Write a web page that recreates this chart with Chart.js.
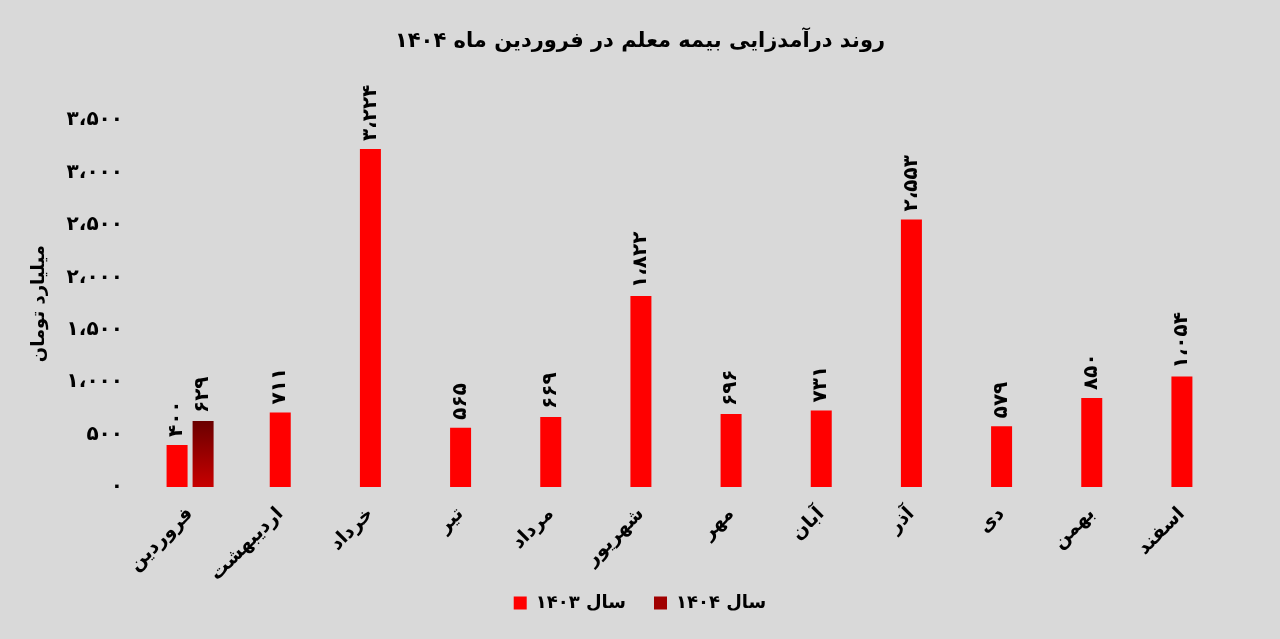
<!DOCTYPE html>
<html>
<head>
<meta charset="utf-8">
<script src="https://cdn.jsdelivr.net/npm/chart.js@4/dist/chart.umd.min.js"></script>
<style>
  body { margin: 0; background: #d9d9d9; }
  .container { position: relative; width: 1280px; height: 639px; }
</style>
</head>
<body>
<div class="container"><canvas id="chart"></canvas></div>
<script>
const months = ['فروردین', 'اردیبهشت', 'خرداد', 'تیر', 'مرداد', 'شهریور', 'مهر', 'آبان', 'آذر', 'دی', 'بهمن', 'اسفند']
const values_1403 = [400, 711, 3224, 565, 669, 1822, 696, 731, 2553, 579, 850, 1054]
const values_1404 = [629, null, null, null, null, null, null, null, null, null, null, null]
const series_names = ['سال ۱۴۰۳', 'سال ۱۴۰۴']
const chart_title = 'روند درآمدزایی بیمه معلم در فروردین ماه ۱۴۰۴'
const y_title = 'میلیارد تومان'

const FONT = '"DejaVu Sans", sans-serif'

function fa(n) {
    let digits = '۰۱۲۳۴۵۶۷۸۹'
    let s = String(n).replace(/\B(?=(\d{3})+(?!\d))/g, '،')
    return s.replace(/\d/g, d => digits[d])
}

// numbers above the bars, turned on their side
const valueLabels = {
    id: 'valueLabels',
    afterDatasetsDraw(chart) {
        let c = chart.ctx
        chart.data.datasets.forEach((ds, i) => {
            let meta = chart.getDatasetMeta(i)
            meta.data.forEach((bar, j) => {
                let v = ds.data[j]
                if (v == null) return
                c.save()
                c.translate(bar.x, bar.y - 8)
                c.rotate(-Math.PI / 2)
                c.font = 'bold 20px ' + FONT
                c.fillStyle = '#000'
                c.textAlign = 'left'
                c.textBaseline = 'middle'
                c.fillText(fa(v), 0, 0)
                c.restore()
            })
        })
    }
}

function darkRed(ctx) {
    let chart = ctx.chart
    if (!chart.chartArea || ctx.raw == null) return '#a00000'
    let y = chart.scales.y
    let g = chart.ctx.createLinearGradient(0, y.getPixelForValue(ctx.raw), 0, y.getPixelForValue(0))
    g.addColorStop(0, '#6a0000')
    g.addColorStop(1, '#c80000')
    return g
}

new Chart(document.getElementById('chart'), {
    type: 'bar',
    data: {
        labels: months,
        datasets: [
            {
                label: series_names[0],
                data: values_1403,
                backgroundColor: '#ff0000',
                skipNull: true,
                categoryPercentage: 0.577,
                barPercentage: 0.81,
                maxBarThickness: 21
            },
            {
                label: series_names[1],
                data: values_1404,
                backgroundColor: darkRed,
                skipNull: true,
                categoryPercentage: 0.577,
                barPercentage: 0.81,
                maxBarThickness: 21
            }
        ]
    },
    options: {
        responsive: true,
        maintainAspectRatio: false,
        animation: false,
        layout: { padding: { left: 53, right: 53, top: 29, bottom: 17 } },
        plugins: {
            title: {
                display: true,
                text: chart_title,
                color: '#000',
                font: { family: FONT, size: 21, weight: 'bold' },
                padding: { top: 0, bottom: 66 }
            },
            legend: {
                position: 'bottom',
                labels: {
                    color: '#000',
                    font: { family: FONT, size: 18, weight: 'bold' },
                    boxWidth: 13,
                    boxHeight: 13,
                    padding: 10,
                    generateLabels: chart => {
                        let items = Chart.defaults.plugins.legend.labels.generateLabels(chart)
                        items[0].text += '\u2003'
                        items[1].fillStyle = '#a00000'
                        return items
                    }
                }
            },
            tooltip: { enabled: false }
        },
        scales: {
            x: {
                grid: { display: false },
                border: { display: false },
                ticks: {
                    color: '#000',
                    font: { family: FONT, size: 19, weight: 'bold' },
                    maxRotation: 45,
                    minRotation: 45,
                    padding: 8
                },
                afterFit: scale => {
                    scale.paddingLeft = 0
                    scale.paddingRight = 0
                    scale.height = 97
                }
            },
            y: {
                min: 0,
                max: 3500,
                grid: { display: false },
                border: { display: false },
                title: {
                    display: true,
                    text: y_title,
                    color: '#000',
                    font: { family: FONT, size: 18, weight: 'bold' },
                    padding: { top: -24, bottom: 0 }
                },
                ticks: {
                    stepSize: 500,
                    color: '#000',
                    font: { family: FONT, size: 20, weight: 'bold' },
                    padding: 14,
                    callback: v => fa(v)
                },
                afterFit: scale => {
                    scale.width = 92
                }
            }
        }
    },
    plugins: [valueLabels]
})
</script>
</body>
</html>
